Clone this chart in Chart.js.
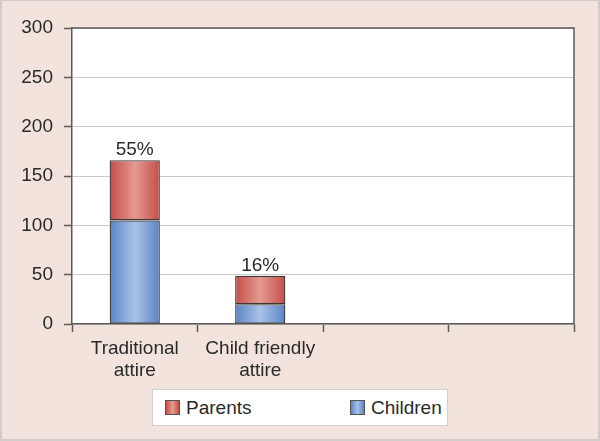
<!DOCTYPE html>
<html>
<head>
<meta charset="utf-8">
<script src="https://cdn.jsdelivr.net/npm/chart.js@4/dist/chart.umd.min.js"></script>
<style>
  html, body { margin: 0; padding: 0; background: #f3e3dd; }
  #wrap { position: relative; width: 600px; height: 441px; }
  #frame { position: absolute; left: 0; top: 0; width: 600px; height: 441px; box-sizing: border-box;
           border: 2px solid #d2cccb; border-top-width: 1px; pointer-events: none; }
  #legend { position: absolute; left: 152px; top: 389px; width: 296px; height: 37px; box-sizing: border-box;
            background: #fff; border: 1px solid #d3d0cf; font-family: "Liberation Sans", Arial, sans-serif;
            font-size: 19px; color: #2a2a2a; }
  .item { position: absolute; top: 0; height: 35px; display: flex; align-items: center; }
  .sw { width: 13px; height: 13px; border: 1px solid #555; margin-right: 6px; }
</style>
</head>
<body>
<div id="wrap">
  <canvas id="c" width="600" height="441"></canvas>
  <div id="legend"></div>
  <div id="frame"></div>
</div>
<script>
const categories = [["Traditional", "attire"], ["Child friendly", "attire"], "", ""];
const children = [105, 20, null, null];
const parents = [61, 29, null, null];
const pctLabels = ["55%", "16%", "", ""];
const yTicks = [0, 50, 100, 150, 200, 250, 300];

const palette = {
  Children: { edge: "#5a84c6", mid: "#aac2e8" },
  Parents: { edge: "#c64d48", mid: "#e39a91" }
};

const FONT = "'Liberation Sans', Arial, sans-serif";

function barGradient(name) {
  return function (context) {
    const chart = context.chart;
    const xs = chart.scales && chart.scales.x;
    if (!chart.chartArea || !xs) return palette[name].edge;
    const c = xs.getPixelForValue(context.dataIndex);
    const half = (xs.width / categories.length) * 0.4 / 2;
    const g = chart.ctx.createLinearGradient(c - half, 0, c + half, 0);
    g.addColorStop(0, palette[name].edge);
    g.addColorStop(0.5, palette[name].mid);
    g.addColorStop(1, palette[name].edge);
    return g;
  };
}

const bgPlugin = {
  id: "bg",
  beforeDraw(chart) {
    const ctx = chart.ctx;
    ctx.save();
    ctx.fillStyle = "#f3e3dd";
    ctx.fillRect(0, 0, chart.width, chart.height);
    const a = chart.chartArea;
    ctx.fillStyle = "#ffffff";
    ctx.fillRect(a.left, a.top, a.right - a.left, a.bottom - a.top);
    ctx.restore();
  },
  afterDraw(chart) {
    const ctx = chart.ctx;
    const a = chart.chartArea;
    ctx.save();
    ctx.strokeStyle = "#5e5a5a";
    ctx.lineWidth = 1.5;
    ctx.beginPath();
    ctx.moveTo(a.left, a.top);
    ctx.lineTo(a.right, a.top);
    ctx.lineTo(a.right, a.bottom);
    ctx.stroke();
    ctx.restore();
  }
};

const labelPlugin = {
  id: "pct",
  afterDatasetsDraw(chart) {
    const ctx = chart.ctx;
    const meta = chart.getDatasetMeta(1);
    ctx.save();
    ctx.font = "19px " + FONT;
    ctx.fillStyle = "#2a2a2a";
    ctx.textAlign = "center";
    ctx.textBaseline = "alphabetic";
    meta.data.forEach((el, i) => {
      if (!pctLabels[i] || parents[i] == null) return;
      ctx.fillText(pctLabels[i], el.x, el.y - 5);
    });
    ctx.restore();
  }
};

const chart = new Chart(document.getElementById("c"), {
  type: "bar",
  data: {
    labels: categories,
    datasets: [
      { label: "Children", data: children, backgroundColor: barGradient("Children"),
        borderColor: "#383838", borderWidth: 1.3, borderSkipped: false },
      { label: "Parents", data: parents, backgroundColor: barGradient("Parents"),
        borderColor: "#383838", borderWidth: 1.3, borderSkipped: false }
    ]
  },
  options: {
    responsive: false,
    animation: false,
    devicePixelRatio: 1,
    layout: { padding: { left: 0, right: 26, top: 28, bottom: 0 } },
    datasets: { bar: { categoryPercentage: 1, barPercentage: 0.4 } },
    plugins: { legend: { display: false }, tooltip: { enabled: false } },
    scales: {
      x: {
        stacked: true,
        offset: true,
        grid: { offset: true, drawOnChartArea: false, tickLength: 8, tickColor: "#5e5a5a", tickWidth: 1.5 },
        border: { color: "#5e5a5a", width: 1.5 },
        ticks: { color: "#2a2a2a", padding: 5, maxRotation: 0, autoSkip: false,
                 font: { family: FONT, size: 19, lineHeight: 1.2 } },
        afterFit(scale) { scale.height = 117; }
      },
      y: {
        stacked: true,
        min: 0, max: 300,
        afterBuildTicks(scale) { scale.ticks = yTicks.map(v => ({ value: v })); },
        grid: { color: "#c9c9c9", lineWidth: 1, tickLength: 8, tickColor: "#5e5a5a", tickWidth: 1.5 },
        border: { color: "#5e5a5a", width: 1.5 },
        ticks: { color: "#2a2a2a", padding: 11, font: { family: FONT, size: 19 } },
        afterFit(scale) { scale.width = 72; }
      }
    }
  },
  plugins: [bgPlugin, labelPlugin]
});

// HTML legend built from the chart's datasets (Parents first)
const legend = document.getElementById("legend");
const positions = { Parents: 12, Children: 197 };
chart.data.datasets.slice().reverse().forEach(ds => {
  const item = document.createElement("div");
  item.className = "item";
  item.style.left = positions[ds.label] + "px";
  const sw = document.createElement("span");
  sw.className = "sw";
  const p = palette[ds.label];
  sw.style.background = `linear-gradient(to right, ${p.edge}, ${p.mid}, ${p.edge})`;
  const t = document.createElement("span");
  t.textContent = ds.label;
  item.appendChild(sw);
  item.appendChild(t);
  legend.appendChild(item);
});
</script>
</body>
</html>
